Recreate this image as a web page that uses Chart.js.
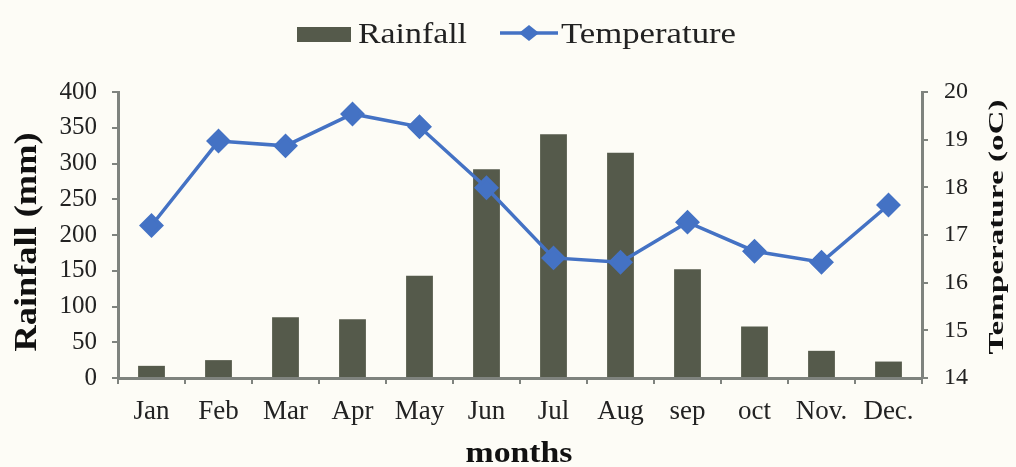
<!DOCTYPE html>
<html>
<head>
<meta charset="utf-8">
<script src="https://cdn.jsdelivr.net/npm/chart.js@4"></script>
<style>
  html, body { margin: 0; padding: 0; background: #fdfcf6; }
  #wrap { width: 1016px; height: 467px; }
</style>
</head>
<body>
<div id="wrap"><canvas id="myChart" width="1016" height="467"></canvas></div>
<script>
var months = ['Jan', 'Feb', 'Mar', 'Apr', 'May', 'Jun', 'Jul', 'Aug', 'sep', 'oct', 'Nov.', 'Dec.'];
var rainfall = [17, 25, 85, 82, 143, 292, 341, 315, 152, 72, 38, 23];
var temperature = [17.2, 18.97, 18.87, 19.54, 19.27, 17.99, 16.52, 16.43, 17.27, 16.66, 16.43, 17.63];

var barColor = '#555a4b';
var lineColor = '#4472c4';
var axisColor = '#7f837e';
var serif = '"Liberation Serif", "DejaVu Serif", serif';

// the source picture has its text a bit stretched, so text is drawn
// with a font size and then stretched to a given length
function stretchText(ctx, text, x, y, font, len, angle) {
  ctx.save();
  ctx.font = font;
  var w = ctx.measureText(text).width;
  ctx.translate(x, y);
  ctx.rotate(angle || 0);
  ctx.scale(len / w, 1);
  ctx.fillText(text, 0, 0);
  ctx.restore();
}

var extras = {
  id: 'extras',
  afterDraw: function(chart) {
    var ctx = chart.ctx;
    var area = chart.chartArea;
    ctx.save();
    // legend
    ctx.fillStyle = barColor;
    ctx.fillRect(297, 27, 54, 15);
    ctx.fillStyle = '#222';
    ctx.textBaseline = 'alphabetic';
    ctx.textAlign = 'left';
    stretchText(ctx, 'Rainfall', 358, 43, '30px ' + serif, 109);
    ctx.strokeStyle = lineColor;
    ctx.lineWidth = 3.5;
    ctx.beginPath();
    ctx.moveTo(500, 33);
    ctx.lineTo(558, 33);
    ctx.stroke();
    ctx.fillStyle = lineColor;
    ctx.beginPath();
    ctx.moveTo(529, 25); ctx.lineTo(539, 33); ctx.lineTo(529, 41); ctx.lineTo(519, 33);
    ctx.closePath();
    ctx.fill();
    ctx.fillStyle = '#222';
    stretchText(ctx, 'Temperature', 561, 43, '30px ' + serif, 175);

    // x axis title
    ctx.fillStyle = '#111';
    ctx.textAlign = 'center';
    stretchText(ctx, 'months', (area.left + area.right) / 2 - 1, 462, 'bold 29px ' + serif, 107);

    // y axis titles, both reading bottom to top
    ctx.textBaseline = 'middle';
    stretchText(ctx, 'Rainfall (mm)', 28, 242, 'bold 32px ' + serif, 219, -Math.PI / 2);
    stretchText(ctx, 'Temperature (oC)', 998, (area.top + area.bottom) / 2 - 8, 'bold 21px ' + serif, 255, -Math.PI / 2);
    ctx.restore();
  }
};

var ctx = document.getElementById('myChart').getContext('2d');

new Chart(ctx, {
  type: 'bar',
  data: {
    labels: months,
    datasets: [{
      type: 'line',
      label: 'Temperature',
      data: temperature,
      yAxisID: 'y2',
      borderColor: lineColor,
      backgroundColor: lineColor,
      borderWidth: 3.5,
      pointStyle: 'rectRot',
      pointRadius: 10,
      pointHoverRadius: 10,
      tension: 0,
      order: 0
    }, {
      label: 'Rainfall',
      data: rainfall,
      yAxisID: 'y',
      backgroundColor: barColor,
      barPercentage: 0.4,
      categoryPercentage: 1,
      order: 1
    }]
  },
  options: {
    responsive: false,
    animation: false,
    layout: { padding: { top: 92, bottom: 0, left: 0, right: 0 } },
    plugins: {
      legend: { display: false },
      tooltip: { enabled: false }
    },
    scales: {
      x: {
        grid: { display: true, drawOnChartArea: false, offset: true, color: axisColor, lineWidth: 2, tickLength: 6 },
        border: { color: axisColor, width: 3 },
        ticks: { font: { family: serif, size: 27 }, color: '#222', padding: 12, maxRotation: 0, autoSkip: false },
        afterFit: function(s) { s.height = 89; }
      },
      y: {
        position: 'left',
        min: 0, max: 400,
        ticks: { stepSize: 50, font: { family: serif, size: 25 }, color: '#222', padding: 15 },
        grid: { display: true, drawOnChartArea: false, color: axisColor, lineWidth: 2, tickLength: 6 },
        border: { color: axisColor, width: 3 },
        afterFit: function(s) { s.width = 118; }
      },
      y2: {
        position: 'right',
        min: 14, max: 20,
        ticks: { stepSize: 1, font: { family: serif, size: 24 }, color: '#222', padding: 16 },
        grid: { display: true, drawOnChartArea: false, color: axisColor, lineWidth: 2, tickLength: 6 },
        border: { color: axisColor, width: 3 },
        afterFit: function(s) { s.width = 94; }
      }
    }
  },
  plugins: [extras]
});
</script>
</body>
</html>
